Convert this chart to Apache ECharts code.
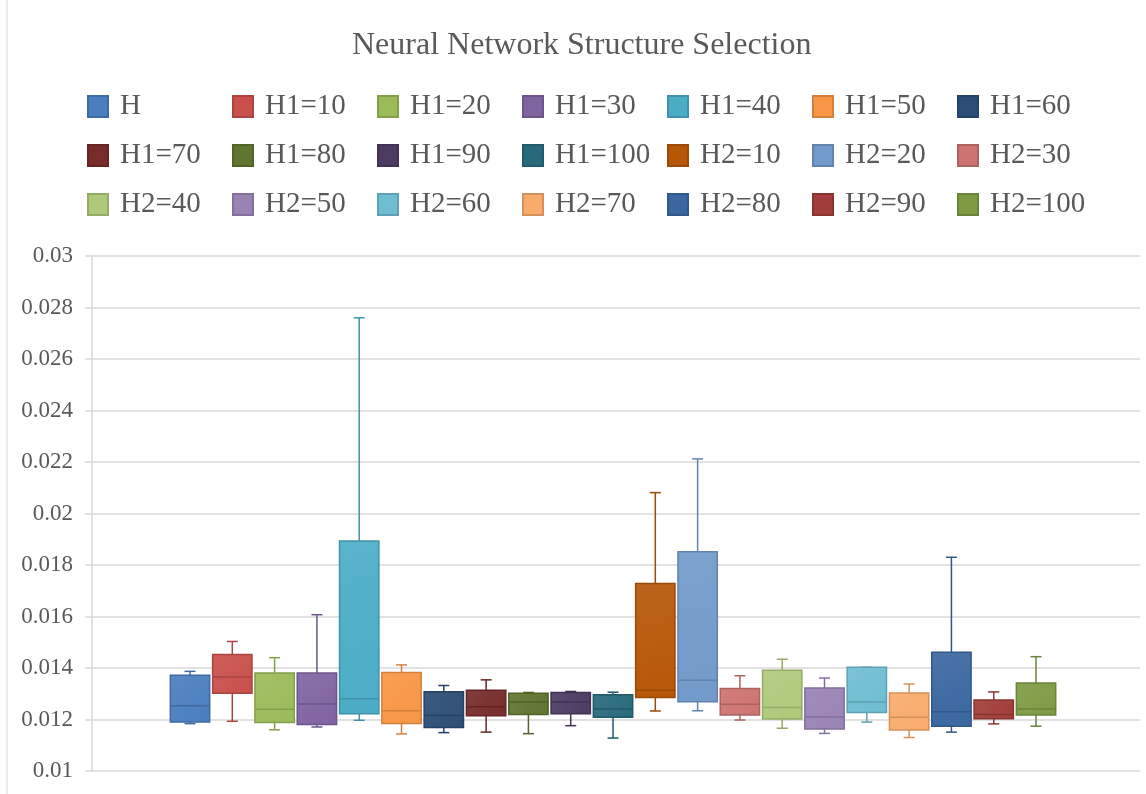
<!DOCTYPE html>
<html>
<head>
<meta charset="utf-8">
<script src="https://cdn.jsdelivr.net/npm/echarts@6/dist/echarts.min.js"></script>
<style>
  html, body { margin: 0; padding: 0; background: #ffffff; }
  #chart { width: 1146px; height: 794px; }
</style>
</head>
<body>
<div id="chart"></div>
<script>
// ---- data ----
const names = ['H', 'H1=10', 'H1=20', 'H1=30', 'H1=40', 'H1=50', 'H1=60',
  'H1=70', 'H1=80', 'H1=90', 'H1=100', 'H2=10', 'H2=20', 'H2=30',
  'H2=40', 'H2=50', 'H2=60', 'H2=70', 'H2=80', 'H2=90', 'H2=100'];
const minVals    = [0.01184, 0.01193, 0.01160, 0.01171, 0.01197, 0.01144, 0.01149,
  0.01151, 0.01145, 0.01176, 0.01128, 0.01233, 0.01234, 0.01198,
  0.01166, 0.01146, 0.01190, 0.01130, 0.01151, 0.01183, 0.01174];
const q1Vals     = [0.01190, 0.01302, 0.01188, 0.01181, 0.01222, 0.01184, 0.01169,
  0.01215, 0.01219, 0.01222, 0.01209, 0.01285, 0.01269, 0.01217,
  0.01202, 0.01163, 0.01227, 0.01159, 0.01174, 0.01203, 0.01217];
const medianVals = [0.01253, 0.01365, 0.01240, 0.01260, 0.01281, 0.01234, 0.01216,
  0.01250, 0.01268, 0.01268, 0.01241, 0.01314, 0.01352, 0.01259,
  0.01247, 0.01210, 0.01268, 0.01209, 0.01230, 0.01219, 0.01241];
const q3Vals     = [0.01372, 0.01452, 0.01381, 0.01381, 0.01893, 0.01383, 0.01308,
  0.01314, 0.01302, 0.01305, 0.01296, 0.01728, 0.01851, 0.01320,
  0.01391, 0.01322, 0.01403, 0.01303, 0.01461, 0.01276, 0.01342];
const maxVals    = [0.01387, 0.01503, 0.01440, 0.01607, 0.02760, 0.01412, 0.01332,
  0.01354, 0.01305, 0.01309, 0.01306, 0.02081, 0.02212, 0.01370,
  0.01434, 0.01361, 0.01403, 0.01338, 0.01830, 0.01307, 0.01444];
const yTicks = [0.01, 0.012, 0.014, 0.016, 0.018, 0.02, 0.022, 0.024, 0.026, 0.028, 0.03];

// ---- styles ----
const fills = ['#4a7ebf', '#c9504c', '#9bbb59', '#8064a2', '#4bacc6', '#f79646', '#2c4d75',
  '#772c2a', '#5f7530', '#4d3b62', '#276a7c', '#b65708', '#729aca', '#cd7371',
  '#afc97a', '#9983b5', '#6fbdd1', '#f9ab6b', '#3a67a0', '#a13d3a', '#7e9b44'];

function shade(hex, f) {
  const n = parseInt(hex.slice(1), 16);
  let r = (n >> 16) & 255, g = (n >> 8) & 255, b = n & 255;
  if (f < 0) { r = r * (1 + f); g = g * (1 + f); b = b * (1 + f); }
  else { r = r + (255 - r) * f; g = g + (255 - g) * f; b = b + (255 - b) * f; }
  const h = v => ('0' + Math.round(v).toString(16)).slice(-2);
  return '#' + h(r) + h(g) + h(b);
}

const FONT = '"Liberation Serif", "Times New Roman", serif';
const TXT = '#595959';

function makeRender(color) {
  const dark = shade(color, -0.15);
  const light = shade(color, 0.08);
  return function (params, api) {
    const x = api.value(0);
    const pMin = api.coord([x, api.value(1)]);
    const pQ1 = api.coord([x, api.value(2)]);
    const pMed = api.coord([x, api.value(3)]);
    const pQ3 = api.coord([x, api.value(4)]);
    const pMax = api.coord([x, api.value(5)]);
    const unit = api.size([1, 0])[0];
    const hw = unit * 0.465;
    const cw = unit * 0.13;
    const cx = pMed[0];
    const ls = { stroke: dark, lineWidth: 1.5 };
    return {
      type: 'group',
      children: [
        { type: 'line', shape: { x1: cx, y1: pMax[1], x2: cx, y2: pQ3[1] }, style: ls },
        { type: 'line', shape: { x1: cx, y1: pQ1[1], x2: cx, y2: pMin[1] }, style: ls },
        { type: 'line', shape: { x1: cx - cw, y1: pMax[1], x2: cx + cw, y2: pMax[1] }, style: ls },
        { type: 'line', shape: { x1: cx - cw, y1: pMin[1], x2: cx + cw, y2: pMin[1] }, style: ls },
        {
          type: 'rect',
          shape: { x: cx - hw, y: pQ3[1], width: hw * 2, height: pQ1[1] - pQ3[1] },
          style: {
            fill: new echarts.graphic.LinearGradient(0, 0, 1, 1, [
              { offset: 0, color: light }, { offset: 1, color: color }
            ]),
            stroke: dark, lineWidth: 1.5
          }
        },
        { type: 'line', shape: { x1: cx - hw, y1: pMed[1], x2: cx + hw, y2: pMed[1] }, style: ls }
      ]
    };
  };
}

const series = names.map((nm, i) => ({
  name: nm,
  type: 'custom',
  renderItem: makeRender(fills[i]),
  itemStyle: { color: fills[i], borderColor: shade(fills[i], -0.15), borderWidth: 1 },
  encode: { x: 0, y: [1, 2, 3, 4, 5] },
  data: [[i, minVals[i], q1Vals[i], medianVals[i], q3Vals[i], maxVals[i]]]
}));

const colX = [87, 232, 377, 522, 667, 812, 957];
const rowY = [92, 141, 190];
const legends = names.map((nm, i) => ({
  data: [nm],
  left: colX[i % 7],
  top: rowY[Math.floor(i / 7)],
  itemWidth: 20,
  itemHeight: 21,
  icon: 'rect',
  padding: 0,
  selectedMode: false,
  textStyle: { fontFamily: FONT, fontSize: 29, lineHeight: 21, color: TXT, padding: [1, 0, 0, 7] }
}));

const chart = echarts.init(document.getElementById('chart'), null, { renderer: 'canvas' });
chart.setOption({
  backgroundColor: '#ffffff',
  animation: false,
  title: {
    text: 'Neural Network Structure Selection',
    left: 352,
    top: 30,
    padding: 0,
    textStyle: { fontFamily: FONT, fontSize: 32, fontWeight: 'normal', color: TXT }
  },
  legend: legends,
  graphic: [{
    type: 'rect', shape: { x: 7, y: -5, width: 1200, height: 820 },
    style: { fill: 'none', stroke: '#d9d9d9', lineWidth: 1 }, silent: true
  }],
  grid: { left: 92, right: 6, top: 256, bottom: 23 },
  xAxis: {
    type: 'value',
    min: -2.317,
    max: 22.458,
    show: false
  },
  yAxis: {
    type: 'value',
    min: yTicks[0],
    max: yTicks[yTicks.length - 1],
    interval: 0.002,
    axisLine: { show: true, onZero: false, lineStyle: { color: '#d9d9d9', width: 1.5 } },
    axisTick: { show: true, length: 7, lineStyle: { color: '#d9d9d9', width: 1.5 } },
    splitLine: { show: true, lineStyle: { color: '#d9d9d9', width: 1.5 } },
    axisLabel: {
      fontFamily: FONT, fontSize: 23, color: TXT, margin: 19,
      formatter: v => String(parseFloat(v.toFixed(3)))
    }
  },
  series: series
});
</script>
</body>
</html>
